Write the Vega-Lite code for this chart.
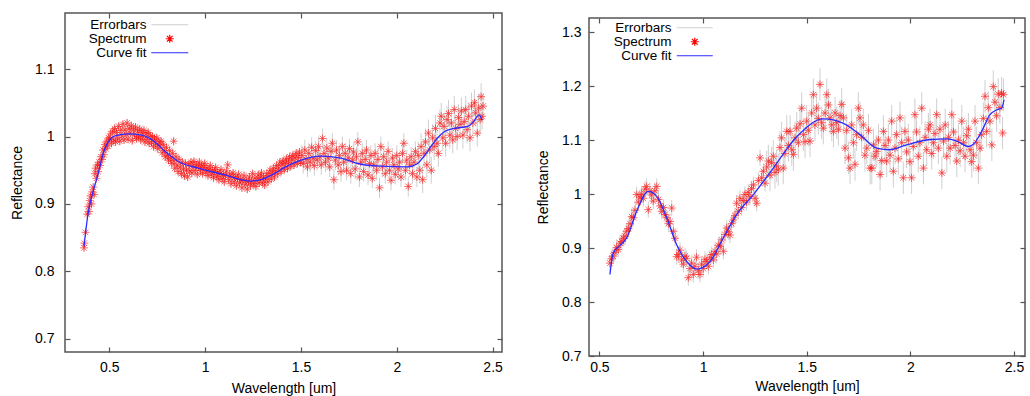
{
  "$schema": "https://vega.github.io/schema/vega-lite/v6.json",
  "padding": {"left": 9, "top": 11, "right": 0, "bottom": 0},
  "background": "white",
  "config": {
    "view": {"stroke": "#555555", "strokeWidth": 1.5},
    "font": "Liberation Sans",
    "axis": {
      "labelFont": "Liberation Sans", "labelFontSize": 14, "labelColor": "#000000",
      "titleFont": "Liberation Sans", "titleFontSize": 14, "titleFontWeight": "normal", "titleColor": "#000000",
      "domain": false, "grid": false, "tickColor": "#555555", "tickWidth": 1.2, "tickSize": -5,
      "labelFlush": false, "labelOverlap": false
    },
    "legend": {"labelFont": "Liberation Sans", "labelFontSize": 13.5, "labelColor": "#000000"}
  },
  "datasets": {
    "left": [
      {"w":0.368,"r":0.835,"e":0.005},{"w":0.370,"r":0.842,"e":0.005},{"w":0.376,"r":0.858,"e":0.005},{"w":0.385,"r":0.885,"e":0.005},{"w":0.390,"r":0.896,"e":0.005},{"w":0.394,"r":0.889,"e":0.005},{"w":0.398,"r":0.905,"e":0.005},{"w":0.402,"r":0.912,"e":0.005},{"w":0.407,"r":0.900,"e":0.005},{"w":0.411,"r":0.918,"e":0.005},{"w":0.416,"r":0.925,"e":0.005},{"w":0.421,"r":0.914,"e":0.005},{"w":0.425,"r":0.945,"e":0.005},{"w":0.429,"r":0.953,"e":0.005},{"w":0.433,"r":0.938,"e":0.005},{"w":0.438,"r":0.958,"e":0.005},{"w":0.442,"r":0.948,"e":0.005},{"w":0.447,"r":0.962,"e":0.005},{"w":0.452,"r":0.957,"e":0.005},{"w":0.457,"r":0.970,"e":0.005},{"w":0.462,"r":0.966,"e":0.005},{"w":0.467,"r":0.980,"e":0.005},{"w":0.472,"r":0.973,"e":0.005},{"w":0.477,"r":0.988,"e":0.005},{"w":0.482,"r":0.982,"e":0.005},{"w":0.487,"r":0.993,"e":0.005},{"w":0.492,"r":0.986,"e":0.005},{"w":0.497,"r":0.998,"e":0.005},
      {"w":0.502,"r":0.996,"e":0.006},{"w":0.507,"r":1.004,"e":0.006},{"w":0.512,"r":0.990,"e":0.006},{"w":0.518,"r":1.008,"e":0.006},{"w":0.523,"r":0.995,"e":0.006},{"w":0.528,"r":1.012,"e":0.006},{"w":0.533,"r":0.992,"e":0.006},{"w":0.538,"r":1.006,"e":0.006},{"w":0.544,"r":0.998,"e":0.006},{"w":0.549,"r":1.015,"e":0.006},{"w":0.555,"r":0.993,"e":0.006},{"w":0.560,"r":1.009,"e":0.006},{"w":0.566,"r":1.001,"e":0.006},{"w":0.571,"r":1.018,"e":0.006},{"w":0.577,"r":0.995,"e":0.006},{"w":0.582,"r":1.010,"e":0.006},{"w":0.588,"r":1.003,"e":0.006},{"w":0.593,"r":1.020,"e":0.006},{"w":0.598,"r":0.996,"e":0.006},{"w":0.604,"r":1.012,"e":0.006},{"w":0.609,"r":1.005,"e":0.006},{"w":0.615,"r":1.016,"e":0.006},{"w":0.620,"r":0.994,"e":0.006},{"w":0.626,"r":1.010,"e":0.006},{"w":0.631,"r":1.002,"e":0.006},{"w":0.637,"r":1.014,"e":0.006},{"w":0.642,"r":0.997,"e":0.006},{"w":0.648,"r":1.008,"e":0.006},{"w":0.653,"r":1.000,"e":0.006},{"w":0.659,"r":1.011,"e":0.006},{"w":0.664,"r":0.995,"e":0.006},{"w":0.670,"r":1.006,"e":0.006},{"w":0.675,"r":0.999,"e":0.006},{"w":0.681,"r":1.009,"e":0.006},{"w":0.686,"r":0.992,"e":0.006},{"w":0.692,"r":1.004,"e":0.006},{"w":0.697,"r":0.996,"e":0.006},{"w":0.703,"r":1.006,"e":0.006},{"w":0.708,"r":0.990,"e":0.006},{"w":0.714,"r":1.001,"e":0.006},{"w":0.720,"r":0.992,"e":0.006},{"w":0.725,"r":1.000,"e":0.006},{"w":0.731,"r":0.985,"e":0.006},{"w":0.736,"r":0.996,"e":0.006},{"w":0.742,"r":0.989,"e":0.006},{"w":0.748,"r":0.998,"e":0.006},{"w":0.753,"r":0.982,"e":0.006},{"w":0.759,"r":0.992,"e":0.006},{"w":0.764,"r":0.986,"e":0.006},{"w":0.770,"r":0.993,"e":0.006},{"w":0.776,"r":0.976,"e":0.006},{"w":0.781,"r":0.988,"e":0.006},{"w":0.787,"r":0.979,"e":0.006},{"w":0.792,"r":0.970,"e":0.006},{"w":0.798,"r":0.984,"e":0.006},{"w":0.803,"r":0.972,"e":0.006},{"w":0.809,"r":0.965,"e":0.006},{"w":0.815,"r":0.979,"e":0.006},{"w":0.820,"r":0.968,"e":0.006},{"w":0.826,"r":0.960,"e":0.006},{"w":0.831,"r":0.975,"e":0.006},{"w":0.836,"r":0.993,"e":0.006},{"w":0.837,"r":0.964,"e":0.006},{"w":0.842,"r":0.953,"e":0.006},{"w":0.848,"r":0.970,"e":0.006},{"w":0.853,"r":0.958,"e":0.006},{"w":0.859,"r":0.948,"e":0.006},{"w":0.864,"r":0.966,"e":0.006},{"w":0.870,"r":0.955,"e":0.006},{"w":0.876,"r":0.945,"e":0.006},{"w":0.881,"r":0.962,"e":0.006},{"w":0.887,"r":0.952,"e":0.006},{"w":0.892,"r":0.942,"e":0.006},{"w":0.898,"r":0.960,"e":0.006},{"w":0.903,"r":0.950,"e":0.006},{"w":0.909,"r":0.940,"e":0.006},{"w":0.915,"r":0.958,"e":0.006},{"w":0.920,"r":0.949,"e":0.006},{"w":0.926,"r":0.962,"e":0.006},{"w":0.931,"r":0.946,"e":0.006},{"w":0.937,"r":0.956,"e":0.006},{"w":0.942,"r":0.963,"e":0.006},{"w":0.948,"r":0.950,"e":0.006},{"w":0.954,"r":0.958,"e":0.006},{"w":0.959,"r":0.944,"e":0.006},{"w":0.965,"r":0.955,"e":0.006},{"w":0.970,"r":0.962,"e":0.006},{"w":0.976,"r":0.950,"e":0.006},{"w":0.982,"r":0.957,"e":0.006},{"w":0.987,"r":0.945,"e":0.006},{"w":0.993,"r":0.954,"e":0.006},{"w":0.998,"r":0.960,"e":0.006},{"w":1.004,"r":0.947,"e":0.006},{"w":1.010,"r":0.953,"e":0.006},{"w":1.015,"r":0.942,"e":0.006},{"w":1.021,"r":0.951,"e":0.006},{"w":1.027,"r":0.957,"e":0.006},{"w":1.032,"r":0.944,"e":0.006},{"w":1.038,"r":0.950,"e":0.006},{"w":1.044,"r":0.939,"e":0.006},{"w":1.049,"r":0.948,"e":0.006},{"w":1.055,"r":0.954,"e":0.006},{"w":1.061,"r":0.941,"e":0.006},{"w":1.066,"r":0.947,"e":0.006},{"w":1.072,"r":0.936,"e":0.006},{"w":1.078,"r":0.945,"e":0.006},{"w":1.083,"r":0.951,"e":0.006},{"w":1.089,"r":0.938,"e":0.006},{"w":1.095,"r":0.944,"e":0.006},{"w":1.100,"r":0.933,"e":0.006},{"w":1.106,"r":0.942,"e":0.006},{"w":1.112,"r":0.949,"e":0.006},{"w":1.118,"r":0.958,"e":0.006},{"w":1.123,"r":0.936,"e":0.006},{"w":1.129,"r":0.944,"e":0.006},{"w":1.135,"r":0.930,"e":0.006},{"w":1.140,"r":0.940,"e":0.006},{"w":1.146,"r":0.946,"e":0.006},{"w":1.152,"r":0.933,"e":0.006},{"w":1.157,"r":0.940,"e":0.006},{"w":1.163,"r":0.927,"e":0.006},{"w":1.169,"r":0.938,"e":0.006},{"w":1.175,"r":0.944,"e":0.006},{"w":1.180,"r":0.931,"e":0.006},{"w":1.186,"r":0.936,"e":0.006},{"w":1.192,"r":0.924,"e":0.006},{"w":1.197,"r":0.935,"e":0.006},{"w":1.203,"r":0.942,"e":0.006},{"w":1.209,"r":0.929,"e":0.006},{"w":1.214,"r":0.935,"e":0.006},{"w":1.220,"r":0.922,"e":0.006},{"w":1.226,"r":0.933,"e":0.006},{"w":1.231,"r":0.940,"e":0.006},{"w":1.237,"r":0.927,"e":0.006},{"w":1.243,"r":0.934,"e":0.006},{"w":1.248,"r":0.945,"e":0.006},{"w":1.254,"r":0.930,"e":0.006},{"w":1.260,"r":0.938,"e":0.006},{"w":1.265,"r":0.926,"e":0.006},{"w":1.271,"r":0.935,"e":0.006},{"w":1.277,"r":0.943,"e":0.006},{"w":1.282,"r":0.931,"e":0.006},{"w":1.288,"r":0.939,"e":0.006},{"w":1.294,"r":0.946,"e":0.006},{"w":1.299,"r":0.932,"e":0.006},{"w":1.305,"r":0.940,"e":0.006},{"w":1.311,"r":0.928,"e":0.006},{"w":1.316,"r":0.937,"e":0.006},{"w":1.322,"r":0.945,"e":0.006},{"w":1.328,"r":0.933,"e":0.006},{"w":1.333,"r":0.942,"e":0.006},{"w":1.339,"r":0.950,"e":0.006},{"w":1.345,"r":0.937,"e":0.006},{"w":1.350,"r":0.946,"e":0.006},{"w":1.356,"r":0.953,"e":0.006},{"w":1.362,"r":0.940,"e":0.006},{"w":1.367,"r":0.948,"e":0.006},{"w":1.373,"r":0.957,"e":0.006},{"w":1.379,"r":0.945,"e":0.006},{"w":1.384,"r":0.953,"e":0.006},{"w":1.390,"r":0.962,"e":0.006},{"w":1.396,"r":0.948,"e":0.006},{"w":1.401,"r":0.958,"e":0.006},{"w":1.407,"r":0.964,"e":0.006},{"w":1.413,"r":0.951,"e":0.006},{"w":1.418,"r":0.960,"e":0.006},{"w":1.424,"r":0.967,"e":0.006},{"w":1.430,"r":0.953,"e":0.006},{"w":1.435,"r":0.962,"e":0.006},{"w":1.441,"r":0.970,"e":0.006},{"w":1.447,"r":0.956,"e":0.006},{"w":1.452,"r":0.965,"e":0.006},{"w":1.458,"r":0.972,"e":0.006},{"w":1.464,"r":0.958,"e":0.006},{"w":1.469,"r":0.968,"e":0.006},{"w":1.475,"r":0.975,"e":0.006},{"w":1.481,"r":0.960,"e":0.006},{"w":1.486,"r":0.969,"e":0.006},{"w":1.492,"r":0.977,"e":0.006},{"w":1.498,"r":0.962,"e":0.006},
      {"w":1.505,"r":0.972,"e":0.015},{"w":1.512,"r":0.960,"e":0.015},{"w":1.520,"r":0.980,"e":0.015},{"w":1.527,"r":0.966,"e":0.015},{"w":1.534,"r":0.955,"e":0.015},{"w":1.541,"r":0.975,"e":0.015},{"w":1.548,"r":0.962,"e":0.015},{"w":1.556,"r":0.984,"e":0.015},{"w":1.563,"r":0.968,"e":0.015},{"w":1.570,"r":0.957,"e":0.015},{"w":1.577,"r":0.979,"e":0.015},{"w":1.585,"r":0.965,"e":0.015},{"w":1.592,"r":0.985,"e":0.015},{"w":1.599,"r":0.970,"e":0.015},{"w":1.606,"r":0.958,"e":0.015},{"w":1.613,"r":0.997,"e":0.015},{"w":1.620,"r":0.975,"e":0.015},{"w":1.628,"r":0.962,"e":0.015},{"w":1.635,"r":0.983,"e":0.015},{"w":1.642,"r":0.968,"e":0.015},{"w":1.650,"r":0.955,"e":0.015},{"w":1.657,"r":0.978,"e":0.015},{"w":1.664,"r":0.990,"e":0.015},{"w":1.672,"r":0.936,"e":0.015},{"w":1.679,"r":0.965,"e":0.015},{"w":1.686,"r":0.980,"e":0.015},{"w":1.694,"r":0.958,"e":0.015},{"w":1.701,"r":0.972,"e":0.015},{"w":1.709,"r":0.948,"e":0.015},{"w":1.716,"r":0.985,"e":0.015},{"w":1.723,"r":0.962,"e":0.015},{"w":1.731,"r":0.975,"e":0.015},{"w":1.738,"r":0.950,"e":0.015},{"w":1.746,"r":0.968,"e":0.015},{"w":1.753,"r":0.982,"e":0.015},{"w":1.760,"r":0.945,"e":0.015},{"w":1.768,"r":0.965,"e":0.015},{"w":1.775,"r":0.977,"e":0.015},{"w":1.783,"r":0.952,"e":0.015},{"w":1.790,"r":0.970,"e":0.015},{"w":1.797,"r":0.992,"e":0.015},{"w":1.805,"r":0.940,"e":0.015},{"w":1.812,"r":0.962,"e":0.015},{"w":1.820,"r":0.975,"e":0.015},{"w":1.827,"r":0.948,"e":0.015},{"w":1.835,"r":0.966,"e":0.015},{"w":1.842,"r":0.980,"e":0.015},{"w":1.850,"r":0.943,"e":0.015},{"w":1.857,"r":0.960,"e":0.015},{"w":1.865,"r":0.972,"e":0.015},{"w":1.872,"r":0.938,"e":0.015},{"w":1.880,"r":0.958,"e":0.015},{"w":1.887,"r":0.975,"e":0.015},{"w":1.895,"r":0.950,"e":0.015},{"w":1.902,"r":0.966,"e":0.015},{"w":1.910,"r":0.924,"e":0.015},{"w":1.917,"r":0.985,"e":0.015},{"w":1.925,"r":0.955,"e":0.015},{"w":1.932,"r":0.970,"e":0.015},{"w":1.940,"r":0.945,"e":0.015},{"w":1.947,"r":0.962,"e":0.015},{"w":1.955,"r":0.978,"e":0.015},{"w":1.962,"r":0.950,"e":0.015},{"w":1.970,"r":0.935,"e":0.015},{"w":1.977,"r":0.968,"e":0.015},{"w":1.985,"r":0.958,"e":0.015},{"w":1.992,"r":0.944,"e":0.015},{"w":2.000,"r":0.972,"e":0.015},{"w":2.007,"r":0.952,"e":0.015},{"w":2.015,"r":0.962,"e":0.015},{"w":2.022,"r":0.940,"e":0.015},{"w":2.030,"r":0.975,"e":0.015},{"w":2.037,"r":0.990,"e":0.015},{"w":2.045,"r":0.950,"e":0.015},{"w":2.052,"r":0.965,"e":0.015},{"w":2.060,"r":0.926,"e":0.015},{"w":2.067,"r":0.958,"e":0.015},{"w":2.075,"r":0.970,"e":0.015},{"w":2.082,"r":0.945,"e":0.015},{"w":2.090,"r":0.962,"e":0.015},{"w":2.097,"r":0.978,"e":0.015},{"w":2.105,"r":0.940,"e":0.015},
      {"w":2.112,"r":0.972,"e":0.02},{"w":2.120,"r":0.950,"e":0.02},{"w":2.127,"r":0.985,"e":0.02},{"w":2.135,"r":0.936,"e":0.02},{"w":2.142,"r":0.975,"e":0.02},{"w":2.150,"r":0.992,"e":0.02},{"w":2.157,"r":0.958,"e":0.02},{"w":2.165,"r":1.005,"e":0.02},{"w":2.172,"r":0.980,"e":0.02},{"w":2.180,"r":0.950,"e":0.02},{"w":2.187,"r":0.998,"e":0.02},{"w":2.195,"r":0.985,"e":0.02},{"w":2.202,"r":1.012,"e":0.02},{"w":2.210,"r":0.990,"e":0.02},{"w":2.217,"r":0.975,"e":0.02},{"w":2.225,"r":1.020,"e":0.02},{"w":2.232,"r":1.030,"e":0.02},{"w":2.240,"r":0.998,"e":0.02},{"w":2.247,"r":1.015,"e":0.02},{"w":2.255,"r":0.990,"e":0.02},{"w":2.262,"r":1.025,"e":0.02},{"w":2.270,"r":1.034,"e":0.02},{"w":2.277,"r":1.002,"e":0.02},{"w":2.285,"r":1.020,"e":0.02},{"w":2.292,"r":0.995,"e":0.02},{"w":2.300,"r":1.040,"e":0.02},{"w":2.307,"r":1.012,"e":0.02},{"w":2.315,"r":1.000,"e":0.02},{"w":2.322,"r":1.028,"e":0.02},{"w":2.330,"r":1.018,"e":0.02},{"w":2.337,"r":1.038,"e":0.02},{"w":2.345,"r":1.002,"e":0.02},{"w":2.352,"r":1.022,"e":0.02},{"w":2.360,"r":1.040,"e":0.02},{"w":2.367,"r":1.010,"e":0.02},{"w":2.375,"r":1.030,"e":0.02},{"w":2.382,"r":0.998,"e":0.02},{"w":2.390,"r":1.045,"e":0.02},{"w":2.397,"r":1.020,"e":0.02},{"w":2.405,"r":1.050,"e":0.02},{"w":2.412,"r":1.035,"e":0.02},{"w":2.420,"r":1.005,"e":0.02},{"w":2.427,"r":1.042,"e":0.02},{"w":2.435,"r":1.025,"e":0.02},{"w":2.440,"r":1.059,"e":0.02},{"w":2.445,"r":1.030,"e":0.02},{"w":2.450,"r":1.045,"e":0.02}
    ],
    "leftfit": [
      {"w":0.368,"r":0.837},{"w":0.39,"r":0.887},{"w":0.417,"r":0.92},{"w":0.443,"r":0.946},{"w":0.469,"r":0.976},{"w":0.495,"r":0.992},{"w":0.53,"r":1.001},{"w":0.6,"r":1.004},{"w":0.669,"r":1.002},{"w":0.738,"r":0.992},{"w":0.79,"r":0.978},{"w":0.86,"r":0.963},{"w":0.964,"r":0.953},{"w":1.104,"r":0.943},{"w":1.188,"r":0.936},{"w":1.24,"r":0.934},{"w":1.30,"r":0.937},{"w":1.361,"r":0.945},{"w":1.42,"r":0.955},{"w":1.483,"r":0.963},{"w":1.552,"r":0.969},{"w":1.604,"r":0.971},{"w":1.709,"r":0.968},{"w":1.796,"r":0.960},{"w":1.917,"r":0.956},{"w":2.057,"r":0.955},{"w":2.109,"r":0.960},{"w":2.14,"r":0.970},{"w":2.178,"r":0.985},{"w":2.21,"r":0.997},{"w":2.248,"r":1.007},{"w":2.30,"r":1.012},{"w":2.37,"r":1.015},{"w":2.40,"r":1.022},{"w":2.43,"r":1.032},{"w":2.445,"r":1.024}
    ],
    "right": [
      {"w":0.551,"r":0.872,"e":0.015},{"w":0.558,"r":0.880,"e":0.015},{"w":0.566,"r":0.885,"e":0.015},{"w":0.575,"r":0.892,"e":0.015},{"w":0.583,"r":0.901,"e":0.015},{"w":0.591,"r":0.897,"e":0.015},{"w":0.600,"r":0.909,"e":0.015},{"w":0.608,"r":0.912,"e":0.015},{"w":0.616,"r":0.918,"e":0.015},{"w":0.624,"r":0.922,"e":0.015},{"w":0.632,"r":0.931,"e":0.015},{"w":0.640,"r":0.936,"e":0.015},{"w":0.648,"r":0.945,"e":0.015},{"w":0.656,"r":0.958,"e":0.015},{"w":0.664,"r":0.956,"e":0.015},{"w":0.672,"r":0.970,"e":0.015},{"w":0.680,"r":0.999,"e":0.015},{"w":0.688,"r":0.985,"e":0.015},{"w":0.696,"r":0.994,"e":0.015},{"w":0.704,"r":1.000,"e":0.015},{"w":0.712,"r":0.992,"e":0.015},{"w":0.720,"r":1.009,"e":0.015},{"w":0.728,"r":1.014,"e":0.015},{"w":0.736,"r":0.971,"e":0.015},{"w":0.744,"r":1.005,"e":0.015},{"w":0.752,"r":0.998,"e":0.015},{"w":0.760,"r":0.987,"e":0.015},{"w":0.768,"r":1.006,"e":0.015},{"w":0.777,"r":1.014,"e":0.015},{"w":0.785,"r":0.990,"e":0.015},{"w":0.793,"r":0.978,"e":0.015},{"w":0.801,"r":0.968,"e":0.015},{"w":0.809,"r":0.975,"e":0.015},{"w":0.817,"r":0.962,"e":0.015},{"w":0.825,"r":0.956,"e":0.015},{"w":0.833,"r":0.945,"e":0.015},{"w":0.841,"r":0.949,"e":0.015},{"w":0.849,"r":0.974,"e":0.015},{"w":0.857,"r":0.931,"e":0.015},{"w":0.865,"r":0.918,"e":0.015},{"w":0.873,"r":0.884,"e":0.015},{"w":0.881,"r":0.888,"e":0.015},{"w":0.889,"r":0.896,"e":0.015},{"w":0.897,"r":0.878,"e":0.015},{"w":0.905,"r":0.870,"e":0.015},{"w":0.913,"r":0.885,"e":0.015},{"w":0.921,"r":0.881,"e":0.015},{"w":0.929,"r":0.845,"e":0.015},{"w":0.937,"r":0.862,"e":0.015},{"w":0.945,"r":0.872,"e":0.015},{"w":0.953,"r":0.851,"e":0.015},{"w":0.961,"r":0.866,"e":0.015},{"w":0.969,"r":0.883,"e":0.015},{"w":0.977,"r":0.858,"e":0.015},{"w":0.985,"r":0.851,"e":0.015},{"w":0.993,"r":0.870,"e":0.015},{"w":1.001,"r":0.862,"e":0.015},{"w":1.009,"r":0.879,"e":0.015},{"w":1.018,"r":0.875,"e":0.015},{"w":1.026,"r":0.866,"e":0.015},{"w":1.034,"r":0.882,"e":0.015},{"w":1.042,"r":0.888,"e":0.015},{"w":1.050,"r":0.878,"e":0.015},{"w":1.058,"r":0.894,"e":0.015},{"w":1.066,"r":0.889,"e":0.015},{"w":1.074,"r":0.905,"e":0.015},{"w":1.082,"r":0.903,"e":0.015},{"w":1.090,"r":0.915,"e":0.015},{"w":1.098,"r":0.894,"e":0.015},{"w":1.106,"r":0.925,"e":0.015},{"w":1.114,"r":0.937,"e":0.015},{"w":1.122,"r":0.930,"e":0.015},{"w":1.130,"r":0.924,"e":0.015},{"w":1.138,"r":0.945,"e":0.015},{"w":1.146,"r":0.952,"e":0.015},{"w":1.154,"r":0.960,"e":0.015},{"w":1.162,"r":0.983,"e":0.015},{"w":1.170,"r":0.968,"e":0.015},{"w":1.178,"r":0.992,"e":0.015},{"w":1.186,"r":0.975,"e":0.015},{"w":1.194,"r":0.988,"e":0.015},{"w":1.202,"r":0.999,"e":0.015},{"w":1.210,"r":0.985,"e":0.015},{"w":1.218,"r":1.003,"e":0.015},{"w":1.226,"r":0.995,"e":0.015},{"w":1.234,"r":1.010,"e":0.015},{"w":1.243,"r":1.017,"e":0.015},{"w":1.251,"r":0.992,"e":0.015},{"w":1.259,"r":0.983,"e":0.015},{"w":1.267,"r":1.025,"e":0.015},{"w":1.275,"r":1.067,"e":0.015},{"w":1.283,"r":1.030,"e":0.015},{"w":1.291,"r":1.042,"e":0.015},{"w":1.299,"r":1.020,"e":0.015},
      {"w":1.307,"r":1.050,"e":0.03},{"w":1.315,"r":1.061,"e":0.03},{"w":1.323,"r":1.035,"e":0.03},{"w":1.331,"r":1.058,"e":0.03},{"w":1.339,"r":1.070,"e":0.03},{"w":1.347,"r":1.040,"e":0.03},{"w":1.355,"r":1.052,"e":0.03},{"w":1.363,"r":1.045,"e":0.03},{"w":1.371,"r":1.086,"e":0.03},{"w":1.379,"r":1.104,"e":0.03},{"w":1.387,"r":1.048,"e":0.03},{"w":1.395,"r":1.075,"e":0.03},{"w":1.404,"r":1.116,"e":0.03},{"w":1.412,"r":1.090,"e":0.03},{"w":1.420,"r":1.116,"e":0.03},{"w":1.428,"r":1.082,"e":0.03},{"w":1.436,"r":1.073,"e":0.03},{"w":1.444,"r":1.104,"e":0.03},{"w":1.452,"r":1.122,"e":0.03},{"w":1.460,"r":1.095,"e":0.03},{"w":1.468,"r":1.130,"e":0.03},{"w":1.476,"r":1.159,"e":0.03},{"w":1.484,"r":1.110,"e":0.03},{"w":1.492,"r":1.097,"e":0.03},{"w":1.500,"r":1.135,"e":0.03},{"w":1.508,"r":1.118,"e":0.03},{"w":1.516,"r":1.098,"e":0.03},{"w":1.524,"r":1.150,"e":0.03},{"w":1.532,"r":1.184,"e":0.03},{"w":1.540,"r":1.128,"e":0.03},{"w":1.548,"r":1.159,"e":0.03},{"w":1.556,"r":1.140,"e":0.03},{"w":1.564,"r":1.203,"e":0.03},{"w":1.572,"r":1.132,"e":0.03},{"w":1.580,"r":1.122,"e":0.03},{"w":1.589,"r":1.150,"e":0.03},{"w":1.597,"r":1.184,"e":0.03},{"w":1.605,"r":1.165,"e":0.03},{"w":1.613,"r":1.141,"e":0.03},{"w":1.621,"r":1.128,"e":0.03},{"w":1.629,"r":1.116,"e":0.03},{"w":1.637,"r":1.150,"e":0.03},{"w":1.645,"r":1.132,"e":0.03},{"w":1.653,"r":1.120,"e":0.03},{"w":1.661,"r":1.145,"e":0.03},{"w":1.669,"r":1.166,"e":0.03},{"w":1.677,"r":1.141,"e":0.03},{"w":1.685,"r":1.085,"e":0.03},{"w":1.693,"r":1.118,"e":0.03},{"w":1.701,"r":1.067,"e":0.03},{"w":1.709,"r":1.048,"e":0.03},{"w":1.717,"r":1.128,"e":0.03},{"w":1.725,"r":1.095,"e":0.03},{"w":1.733,"r":1.055,"e":0.03},{"w":1.741,"r":1.110,"e":0.03},{"w":1.749,"r":1.159,"e":0.03},{"w":1.757,"r":1.141,"e":0.03},{"w":1.765,"r":1.105,"e":0.03},{"w":1.773,"r":1.128,"e":0.03},{"w":1.781,"r":1.072,"e":0.03},{"w":1.790,"r":1.085,"e":0.03},{"w":1.798,"r":1.118,"e":0.03},{"w":1.806,"r":1.048,"e":0.03},{"w":1.814,"r":1.048,"e":0.03},{"w":1.822,"r":1.091,"e":0.03},{"w":1.830,"r":1.070,"e":0.03},{"w":1.838,"r":1.079,"e":0.03},{"w":1.846,"r":1.100,"e":0.03},{"w":1.854,"r":1.036,"e":0.03},{"w":1.862,"r":1.062,"e":0.03},{"w":1.870,"r":1.116,"e":0.03},{"w":1.878,"r":1.090,"e":0.03},{"w":1.886,"r":1.061,"e":0.03},{"w":1.894,"r":1.100,"e":0.03},{"w":1.902,"r":1.072,"e":0.03},{"w":1.910,"r":1.135,"e":0.03},{"w":1.918,"r":1.042,"e":0.03},{"w":1.926,"r":1.085,"e":0.03},{"w":1.934,"r":1.110,"e":0.03},{"w":1.942,"r":1.065,"e":0.03},{"w":1.950,"r":1.141,"e":0.03},{"w":1.958,"r":1.095,"e":0.03},{"w":1.966,"r":1.030,"e":0.03},{"w":1.974,"r":1.116,"e":0.03},{"w":1.982,"r":1.078,"e":0.03},{"w":1.990,"r":1.100,"e":0.03},{"w":1.998,"r":1.060,"e":0.03},{"w":2.006,"r":1.030,"e":0.03},{"w":2.014,"r":1.088,"e":0.03},{"w":2.022,"r":1.147,"e":0.03},{"w":2.030,"r":1.115,"e":0.03},{"w":2.038,"r":1.070,"e":0.03},{"w":2.046,"r":1.095,"e":0.03},{"w":2.055,"r":1.159,"e":0.03},{"w":2.063,"r":1.048,"e":0.03},{"w":2.071,"r":1.105,"e":0.03},{"w":2.079,"r":1.082,"e":0.03},{"w":2.087,"r":1.120,"e":0.03},{"w":2.095,"r":1.128,"e":0.03},{"w":2.103,"r":1.075,"e":0.03},{"w":2.111,"r":1.095,"e":0.03},{"w":2.119,"r":1.112,"e":0.03},{"w":2.127,"r":1.147,"e":0.03},{"w":2.135,"r":1.085,"e":0.03},{"w":2.143,"r":1.120,"e":0.03},{"w":2.152,"r":1.039,"e":0.03},{"w":2.160,"r":1.098,"e":0.03},{"w":2.168,"r":1.128,"e":0.03},{"w":2.176,"r":1.070,"e":0.03},{"w":2.184,"r":1.105,"e":0.03},{"w":2.192,"r":1.085,"e":0.03},{"w":2.200,"r":1.147,"e":0.03},{"w":2.208,"r":1.115,"e":0.03},{"w":2.216,"r":1.090,"e":0.03},{"w":2.224,"r":1.061,"e":0.03},{"w":2.232,"r":1.100,"e":0.03},{"w":2.240,"r":1.080,"e":0.03},{"w":2.248,"r":1.135,"e":0.03},{"w":2.256,"r":1.095,"e":0.03},{"w":2.264,"r":1.070,"e":0.03},{"w":2.272,"r":1.108,"e":0.03},{"w":2.280,"r":1.120,"e":0.03},{"w":2.288,"r":1.082,"e":0.03},{"w":2.296,"r":1.060,"e":0.03},{"w":2.304,"r":1.072,"e":0.03},{"w":2.312,"r":1.135,"e":0.03},{"w":2.320,"r":1.095,"e":0.03},{"w":2.328,"r":1.048,"e":0.03},{"w":2.336,"r":1.085,"e":0.03},{"w":2.344,"r":1.110,"e":0.03},{"w":2.352,"r":1.140,"e":0.03},{"w":2.360,"r":1.181,"e":0.03},{"w":2.368,"r":1.116,"e":0.03},{"w":2.376,"r":1.160,"e":0.03},{"w":2.384,"r":1.135,"e":0.03},{"w":2.393,"r":1.091,"e":0.03},{"w":2.400,"r":1.199,"e":0.03},{"w":2.408,"r":1.170,"e":0.03},{"w":2.416,"r":1.145,"e":0.03},{"w":2.424,"r":1.185,"e":0.03},{"w":2.432,"r":1.160,"e":0.03},{"w":2.440,"r":1.187,"e":0.03},{"w":2.445,"r":1.113,"e":0.03},{"w":2.449,"r":1.184,"e":0.03}
    ],
    "rightfit": [
      {"w":0.551,"r":0.851},{"w":0.567,"r":0.891},{"w":0.6,"r":0.905},{"w":0.632,"r":0.919},{"w":0.68,"r":0.968},{"w":0.736,"r":1.005},{"w":0.776,"r":0.996},{"w":0.825,"r":0.956},{"w":0.873,"r":0.906},{"w":0.921,"r":0.875},{"w":0.969,"r":0.861},{"w":1.034,"r":0.875},{"w":1.098,"r":0.919},{"w":1.162,"r":0.962},{"w":1.243,"r":0.999},{"w":1.339,"r":1.048},{"w":1.452,"r":1.106},{"w":1.581,"r":1.139},{"w":1.677,"r":1.131},{"w":1.757,"r":1.110},{"w":1.838,"r":1.085},{"w":1.902,"r":1.082},{"w":1.982,"r":1.091},{"w":2.095,"r":1.101},{"w":2.175,"r":1.102},{"w":2.224,"r":1.098},{"w":2.28,"r":1.088},{"w":2.304,"r":1.092},{"w":2.344,"r":1.116},{"w":2.384,"r":1.147},{"w":2.417,"r":1.156},{"w":2.44,"r":1.159},{"w":2.452,"r":1.175}
    ]
  },
  "resolve": {"scale": {"color": "independent"}, "legend": {"color": "independent"}},
  "spacing": 31,
  "hconcat": [
    {
      "width": 437, "height": 339,
      "data": {"name": "left"},
      "resolve": {"axis": {"x": "independent", "y": "independent"}},
      "layer": [
        {
          "mark": {"type": "errorbar", "thickness": 1},
          "encoding": {
            "x": {"field": "w", "type": "quantitative", "scale": {"domain": [0.269, 2.549], "nice": false, "zero": false},
                  "axis": {"orient": "bottom", "title": "Wavelength [um]", "values": [0.5, 1, 1.5, 2, 2.5], "format": "~g", "labelPadding": 13.5, "titlePadding": 7}},
            "y": {"field": "r", "type": "quantitative", "scale": {"domain": [0.6807, 1.183], "nice": false, "zero": false},
                  "axis": {"orient": "left", "title": "Reflectance", "values": [0.7, 0.8, 0.9, 1, 1.1], "format": "~g", "labelPadding": 16, "titlePadding": 10}},
            "yError": {"field": "e"},
            "color": {"datum": "Errorbars", "type": "nominal",
              "scale": {"domain": ["Errorbars", "Spectrum", "Curve fit"], "range": ["#cfcfcf", "#ff0000", "#2b2bff"]},
              "legend": {
                "orient": "none", "legendX": 98, "legendY": 5, "title": null, "padding": 0,
                "symbolType": "stroke", "symbolSize": 100, "symbolStrokeWidth": 1.2, "rowPadding": -5,
                "labelAlign": "right", "labelOffset": -30,
                "encode": {"symbols": {"update": {
                  "shape": {"signal": "datum.value === 'Spectrum' ? 'M-0.8,0H0.8M0,-0.8V0.8M-0.57,-0.57L0.57,0.57M-0.57,0.57L0.57,-0.57' : 'M-3.7,0H3.7'"},
                  "fill": {"value": "transparent"}, "opacity": {"value": 1}}}}
              }}
          }
        },
        {
          "mark": {"type": "point", "shape": "M-1,0H1M0,-1V1M-0.7,-0.7L0.7,0.7M-0.7,0.7L0.7,-0.7", "filled": false, "size": 64, "strokeWidth": 0.8, "opacity": 0.75},
          "encoding": {
            "x": {"field": "w", "type": "quantitative", "axis": {"orient": "top", "labels": false, "title": null, "values": [0.5, 1, 1.5, 2, 2.5]}},
            "y": {"field": "r", "type": "quantitative", "axis": {"orient": "right", "labels": false, "title": null, "values": [0.7, 0.8, 0.9, 1, 1.1]}},
            "color": {"datum": "Spectrum", "type": "nominal"}
          }
        },
        {
          "data": {"name": "leftfit"},
          "mark": {"type": "line", "strokeWidth": 1.3, "interpolate": "monotone"},
          "encoding": {
            "x": {"field": "w", "type": "quantitative", "axis": null},
            "y": {"field": "r", "type": "quantitative", "axis": null},
            "color": {"datum": "Curve fit", "type": "nominal"}
          }
        }
      ]
    },
    {
      "spacing": 0,
      "resolve": {"scale": {"color": "independent"}, "legend": {"color": "independent"}},
      "vconcat": [
        {
          "width": 436, "height": 2.5,
          "view": {"stroke": null},
          "data": {"values": []},
          "mark": "point"
        },
        {
          "width": 436, "height": 338,
          "data": {"name": "right"},
          "resolve": {"axis": {"x": "independent", "y": "independent"}},
          "layer": [
            {
              "mark": {"type": "errorbar", "thickness": 1},
              "encoding": {
                "x": {"field": "w", "type": "quantitative", "scale": {"domain": [0.45, 2.553], "nice": false, "zero": false},
                      "axis": {"orient": "bottom", "title": "Wavelength [um]", "values": [0.5, 1, 1.5, 2, 2.5], "format": "~g", "labelPadding": 9, "titlePadding": 5}},
                "y": {"field": "r", "type": "quantitative", "scale": {"domain": [0.7, 1.326], "nice": false, "zero": false},
                      "axis": {"orient": "left", "title": "Reflectance", "values": [0.7, 0.8, 0.9, 1, 1.1, 1.2, 1.3], "format": "~g", "labelPadding": 13, "titlePadding": 11}},
                "yError": {"field": "e"},
                "color": {"datum": "Errorbars", "type": "nominal",
                  "scale": {"domain": ["Errorbars", "Spectrum", "Curve fit"], "range": ["#cfcfcf", "#ff0000", "#2b2bff"]},
                  "legend": {
                    "orient": "none", "legendX": 99, "legendY": 3, "title": null, "padding": 0,
                    "symbolType": "stroke", "symbolSize": 100, "symbolStrokeWidth": 1.2, "rowPadding": -5,
                    "labelAlign": "right", "labelOffset": -30,
                    "encode": {"symbols": {"update": {
                      "shape": {"signal": "datum.value === 'Spectrum' ? 'M-0.8,0H0.8M0,-0.8V0.8M-0.57,-0.57L0.57,0.57M-0.57,0.57L0.57,-0.57' : 'M-3.6,0H3.6'"},
                      "fill": {"value": "transparent"}, "opacity": {"value": 1}}}}
                  }}
              }
            },
            {
              "mark": {"type": "point", "shape": "M-1,0H1M0,-1V1M-0.7,-0.7L0.7,0.7M-0.7,0.7L0.7,-0.7", "filled": false, "size": 64, "strokeWidth": 0.8, "opacity": 0.75},
              "encoding": {
                "x": {"field": "w", "type": "quantitative", "axis": {"orient": "top", "labels": false, "title": null, "values": [0.5, 1, 1.5, 2, 2.5]}},
                "y": {"field": "r", "type": "quantitative", "axis": {"orient": "right", "labels": false, "title": null, "values": [0.7, 0.8, 0.9, 1, 1.1, 1.2, 1.3]}},
                "color": {"datum": "Spectrum", "type": "nominal"}
              }
            },
            {
              "data": {"name": "rightfit"},
              "mark": {"type": "line", "strokeWidth": 1.3, "interpolate": "monotone"},
              "encoding": {
                "x": {"field": "w", "type": "quantitative", "axis": null},
                "y": {"field": "r", "type": "quantitative", "axis": null},
                "color": {"datum": "Curve fit", "type": "nominal"}
              }
            }
          ]
        }
      ]
    }
  ]
}
